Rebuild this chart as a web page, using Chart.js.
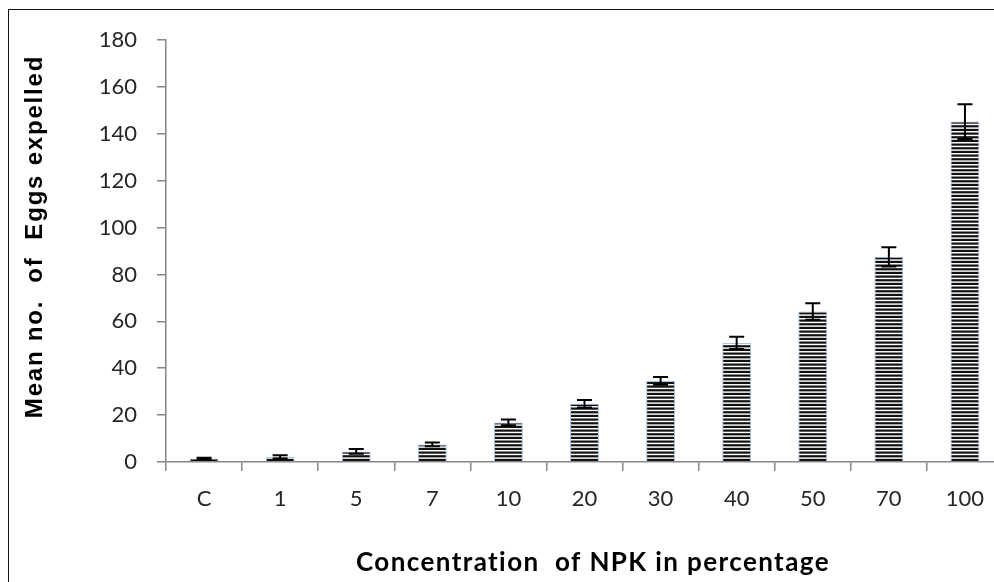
<!DOCTYPE html>
<html>
<head>
<meta charset="utf-8">
<script src="https://cdn.jsdelivr.net/npm/chart.js@4.4.1/dist/chart.umd.min.js"></script>
<style>
  html, body { margin: 0; padding: 0; background: #fff; overflow: hidden; width: 994px; height: 582px; }
  #frame { position: absolute; left: 8px; top: 9px; width: 1200px; height: 800px; border: 1.5px solid #111; box-sizing: border-box; }
  #wrap { position: absolute; left: 0; top: 0; width: 1020px; height: 582px; }
</style>
</head>
<body>
<div id="frame"></div>
<div id="wrap"><canvas id="c" width="1020" height="582"></canvas></div>
<script>
// ---- data ----
const categories = ['C', '1', '5', '7', '10', '20', '30', '40', '50', '70', '100'];
const meanEggs = [1.5, 2.2, 4.5, 7.5, 16.9, 24.8, 34.6, 50.8, 64.2, 87.5, 145.2];
const errorValues = [0.3, 0.7, 1.0, 0.8, 1.2, 1.6, 1.7, 2.6, 3.5, 4.1, 7.4];
const yTicks = [0, 20, 40, 60, 80, 100, 120, 140, 160, 180];
const xTitle = 'Concentration  of NPK in percentage';
const yTitle = 'Mean no.  of  Eggs expelled';

// horizontal-line hatch pattern
function makePattern() {
  const p = document.createElement('canvas');
  p.width = 8; p.height = 11;
  const g = p.getContext('2d');
  g.fillStyle = '#ffffff';
  g.fillRect(0, 0, 8, 11);
  g.fillStyle = '#111111';
  g.fillRect(0, 0.5, 8, 2.2);
  g.fillRect(0, 4.17, 8, 2.2);
  g.fillRect(0, 7.83, 8, 2.2);
  return document.getElementById('c').getContext('2d').createPattern(p, 'repeat');
}

const errorBarPlugin = {
  id: 'errorBars',
  afterDatasetsDraw(chart) {
    const ctx = chart.ctx;
    const meta = chart.getDatasetMeta(0);
    const ys = chart.scales.y;
    ctx.save();
    ctx.strokeStyle = '#000';
    ctx.lineWidth = 2;
    meta.data.forEach((bar, i) => {
      const x = bar.x;
      const top = ys.getPixelForValue(meanEggs[i] + errorValues[i]);
      const bot = ys.getPixelForValue(meanEggs[i] - errorValues[i]);
      ctx.beginPath();
      ctx.moveTo(x, top); ctx.lineTo(x, bot);
      ctx.moveTo(x - 7.5, top); ctx.lineTo(x + 7.5, top);
      ctx.moveTo(x - 7.5, bot); ctx.lineTo(x + 7.5, bot);
      ctx.stroke();
    });
    ctx.restore();
  }
};

const titlePlugin = {
  id: 'axisTitles',
  afterDraw(chart) {
    const ctx = chart.ctx;
    ctx.save();
    ctx.fillStyle = '#000';
    ctx.font = 'bold 26px Lato';
    ctx.textAlign = 'center';
    ctx.textBaseline = 'alphabetic';
    try { ctx.letterSpacing = '1.4px'; } catch (e) {}
    ctx.fillText(xTitle, 593, 571);
    ctx.translate(42, 236.5);
    ctx.rotate(-Math.PI / 2);
    ctx.font = 'bold 24px "Liberation Sans"';
    try { ctx.letterSpacing = '1.8px'; } catch (e) {}
    ctx.fillText(yTitle, 0, 0);
    ctx.restore();
  }
};

new Chart(document.getElementById('c'), {
  type: 'bar',
  data: {
    labels: categories,
    datasets: [{
      data: meanEggs,
      backgroundColor: makePattern(),
      borderColor: '#aac1e8',
      borderWidth: 1,
      barPercentage: 0.38,
      categoryPercentage: 1.0
    }]
  },
  options: {
    responsive: false,
    animation: false,
    devicePixelRatio: 1,
    layout: { padding: { left: 0, right: 17, top: 40, bottom: 0 } },
    plugins: { legend: { display: false }, tooltip: { enabled: false }, title: { display: false } },
    scales: {
      x: {
        grid: { display: true, drawOnChartArea: false, drawTicks: true, tickLength: 9, color: '#868686', lineWidth: 1.5, offset: true },
        border: { display: true, color: '#868686', width: 1.5 },
        ticks: { color: '#262626', font: { family: 'Lato', size: 22 }, padding: 15, maxRotation: 0, autoSkip: false },
        afterFit(scale) { scale.height = 120; }
      },
      y: {
        min: 0, max: 180,
        afterBuildTicks(scale) { scale.ticks = yTicks.map(v => ({ value: v })); },
        grid: { display: true, drawOnChartArea: false, drawTicks: true, tickLength: 9, color: '#868686', lineWidth: 1.5 },
        border: { display: true, color: '#868686', width: 1.5 },
        ticks: { color: '#262626', font: { family: 'Lato', size: 22 }, padding: 20 },
        afterFit(scale) { scale.width = 166; }
      }
    }
  },
  plugins: [errorBarPlugin, titlePlugin]
});
</script>
</body>
</html>
